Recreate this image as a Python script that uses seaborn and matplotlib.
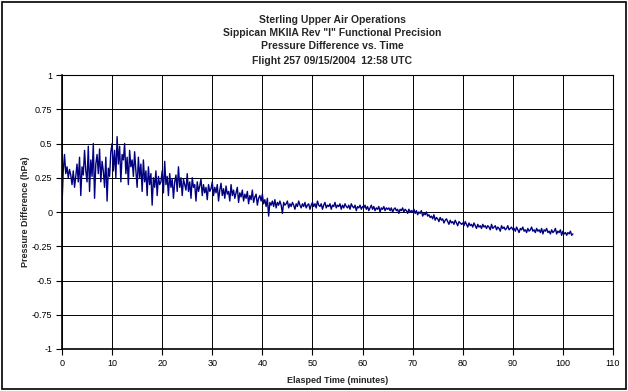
import numpy as np
import pandas as pd
import matplotlib
matplotlib.use("Agg")
import matplotlib.pyplot as plt
import seaborn as sns
from matplotlib.ticker import FixedLocator, FuncFormatter

sns.set_theme(style="white")
plt.rcParams['font.family'] = ['Liberation Sans', 'DejaVu Sans']

title_lines = ["Sterling Upper Air Operations",
               "Sippican MKIIA Rev \"I\" Functional Precision",
               "Pressure Difference vs. Time",
               "Flight 257 09/15/2004  12:58 UTC"]
x_label = "Elasped Time (minutes)"
y_label = "Pressure Difference (hPa)"
x_ticks = [0, 10, 20, 30, 40, 50, 60, 70, 80, 90, 100, 110]
y_ticks = [-1, -0.75, -0.5, -0.25, 0, 0.25, 0.5, 0.75, 1]

sample_step_min = 0.25
pressure_diff = [
    0.05, 0.30, 0.42, 0.28, 0.33, 0.25, 0.31, 0.27, 0.20, 0.30, 0.18, 0.26, 0.35, 0.22, 0.40, 0.12, 0.33, 0.27, 0.45, 0.30,
    0.22, 0.48, 0.15, 0.38, 0.26, 0.50, 0.10, 0.35, 0.42, 0.28, 0.46, 0.22, 0.37, 0.30, 0.18, 0.40, 0.08, 0.32, 0.26, 0.44,
    0.50, 0.30, 0.45, 0.25, 0.55, 0.35, 0.48, 0.22, 0.42, 0.38, 0.50, 0.28, 0.40, 0.20, 0.45, 0.33, 0.38, 0.26, 0.44, 0.30,
    0.18, 0.40, 0.25, 0.35, 0.15, 0.38, 0.22, 0.30, 0.12, 0.33, 0.20, 0.28, 0.05, 0.25, 0.18, 0.30, 0.12, 0.26, 0.20, 0.22,
    0.30, 0.14, 0.37, 0.20, 0.26, 0.12, 0.28, 0.18, 0.24, 0.10, 0.22, 0.27, 0.15, 0.33, 0.18, 0.25, 0.12, 0.24, 0.20, 0.16,
    0.28, 0.15, 0.22, 0.10, 0.25, 0.18, 0.20, 0.08, 0.22, 0.15, 0.19, 0.24, 0.12, 0.20, 0.14, 0.18, 0.09, 0.20, 0.15, 0.17,
    0.22, 0.12, 0.18, 0.14, 0.20, 0.08, 0.16, 0.21, 0.12, 0.17, 0.10, 0.19, 0.13, 0.15, 0.08, 0.20, 0.12, 0.16, 0.10, 0.14,
    0.18, 0.07, 0.14, 0.11, 0.16, 0.08, 0.13, 0.10, 0.15, 0.06, 0.12, 0.09, 0.16, 0.07, 0.11, 0.13, 0.05, 0.10, 0.12, 0.08,
    0.13, 0.06, 0.09, 0.04, 0.10, -0.03, 0.07, 0.05, 0.08, 0.04, 0.09, 0.03, 0.07, 0.05, 0.08, 0.05, -0.01, 0.07, 0.05, 0.06,
    0.08, 0.03, 0.06, 0.04, 0.07, 0.05, 0.02, 0.06, 0.04, 0.08, 0.05, 0.03, 0.06, 0.04, 0.07, 0.03, 0.05, 0.06, 0.02, 0.05,
    0.07, 0.04, 0.06, 0.03, 0.08, 0.05, 0.04, 0.06, 0.02, 0.05, 0.07, 0.03, 0.05, 0.04, 0.06, 0.02, 0.05, 0.04, 0.07, 0.03,
    0.05, 0.04, 0.06, 0.02, 0.05, 0.03, 0.06, 0.04, 0.03, 0.05, 0.02, 0.06, 0.04, 0.03, 0.05, 0.01, 0.04, 0.03, 0.05, 0.02,
    0.04, 0.03, 0.05, 0.02, 0.04, 0.01, 0.03, 0.05, 0.02, 0.04, 0.01, 0.03, 0.02, 0.04, 0.00, 0.03, 0.02, 0.04, 0.01, 0.03,
    0.02, 0.03, 0.01, 0.03, 0.00, 0.02, 0.03, 0.01, 0.02, -0.01, 0.02, 0.01, 0.03, 0.00, 0.02, 0.01, -0.01, 0.02, 0.00, 0.01,
    0.00, 0.02, -0.01, 0.01, -0.02, 0.00, -0.01, 0.01, -0.03, -0.01, -0.02, 0.00, -0.03, -0.02, -0.04, -0.03, -0.05, -0.02, -0.06, -0.04,
    -0.05, -0.07, -0.04, -0.06, -0.05, -0.08, -0.06, -0.05, -0.07, -0.09, -0.06, -0.08, -0.07, -0.09, -0.06, -0.08, -0.10, -0.07, -0.08, -0.09,
    -0.08, -0.10, -0.07, -0.09, -0.11, -0.08, -0.10, -0.09, -0.11, -0.08, -0.10, -0.12, -0.09, -0.11, -0.10, -0.12, -0.09, -0.11, -0.10, -0.12,
    -0.10, -0.11, -0.13, -0.09, -0.12, -0.11, -0.10, -0.13, -0.11, -0.12, -0.14, -0.10, -0.12, -0.11, -0.13, -0.12, -0.10, -0.13, -0.12, -0.11,
    -0.13, -0.12, -0.14, -0.11, -0.13, -0.15, -0.12, -0.13, -0.11, -0.14, -0.13, -0.15, -0.12, -0.14, -0.13, -0.11, -0.14, -0.13, -0.15, -0.12,
    -0.14, -0.13, -0.15, -0.12, -0.16, -0.13, -0.14, -0.12, -0.15, -0.14, -0.16, -0.13, -0.15, -0.14, -0.12, -0.16, -0.14, -0.15, -0.13, -0.17,
    -0.14, -0.16, -0.15, -0.17, -0.15, -0.16, -0.14, -0.17, -0.16,
]
elapsed_min = np.arange(len(pressure_diff)) * sample_step_min

df = pd.DataFrame({"t": elapsed_min, "p": pressure_diff})

fig = plt.figure(figsize=(6.28, 3.91), dpi=100)
fig.patch.set_facecolor("white")
ax = fig.add_axes([62/628, 1-349/391, (613-62)/628, (349-75)/391])

sns.lineplot(data=df, x="t", y="p", ax=ax, color="#000080", linewidth=1.0)

ax.set_xlim(0, 110)
ax.set_ylim(-1, 1)
ax.xaxis.set_major_locator(FixedLocator(x_ticks))
ax.yaxis.set_major_locator(FixedLocator(y_ticks))
ax.yaxis.set_major_formatter(FuncFormatter(lambda v, p: f"{v:g}"))
ax.grid(True, color="black", linewidth=0.7)
ax.set_axisbelow(True)
for s in ax.spines.values():
    s.set_color("black")
    s.set_linewidth(0.8)
ax.spines["left"].set_linewidth(1.2)
ax.spines["bottom"].set_linewidth(1.2)
ax.tick_params(axis="both", which="major", direction="out", length=4, width=0.8,
               color="black", labelsize=6.5, labelcolor="black", pad=3,
               bottom=True, left=True)
ax.set_xlabel(x_label, fontsize=6.5, fontweight="bold", labelpad=6)
ax.set_ylabel(y_label, fontsize=6.5, fontweight="bold", labelpad=1)

ys = [20, 33, 46, 61]
for line, y in zip(title_lines, ys):
    fig.text(332/628, 1 - y/391, line, ha="center", va="center",
             fontsize=7.5, fontweight="bold")

fig.patches.append(plt.Rectangle((2/628, 2/391), 624/628, 387/391, transform=fig.transFigure,
                                 fill=False, edgecolor="black", linewidth=1.2))

fig.savefig("out.png", dpi=100, facecolor="white")
